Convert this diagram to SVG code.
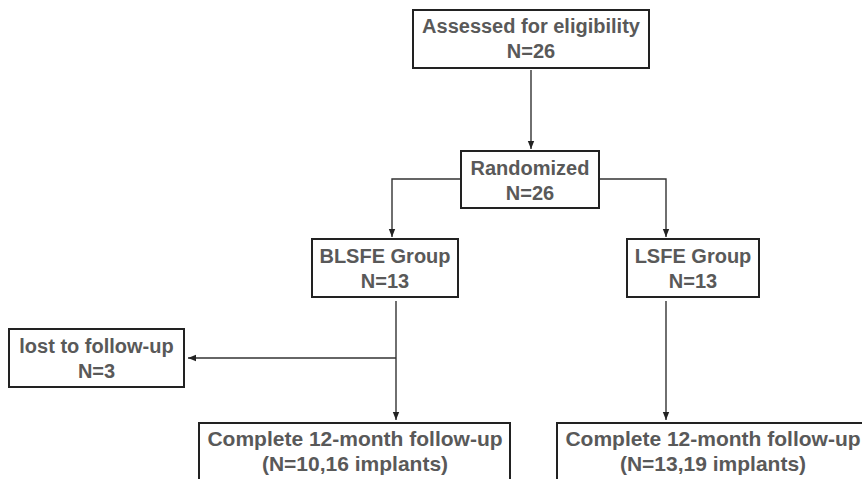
<svg xmlns="http://www.w3.org/2000/svg" width="862" height="479" viewBox="0 0 862 479">
<style>
.box{fill:#fff;stroke:#222;stroke-width:2}
.t{font-family:"Liberation Sans",Arial,sans-serif;font-weight:bold;font-size:20px;fill:#595959;text-anchor:middle}
.tb{font-size:21px}
.c{fill:none;stroke:#333;stroke-width:1.4}
</style>
<defs>
<marker id="ah" viewBox="0 0 8 8" refX="8" refY="4" markerWidth="8" markerHeight="8" markerUnits="userSpaceOnUse" orient="auto">
<path d="M0,0.8 L8,4 L0,7.2 Z" fill="#222"/>
</marker>
</defs>
<rect width="862" height="479" fill="#fff"/>
<g id="connectors">
<path class="c" d="M531,70 V149" marker-end="url(#ah)"/>
<path class="c" d="M461,179 H392 V237" marker-end="url(#ah)"/>
<path class="c" d="M599,179 H666 V237" marker-end="url(#ah)"/>
<path class="c" d="M396,301 V420" marker-end="url(#ah)"/>
<path class="c" d="M396,358 H188" marker-end="url(#ah)"/>
<path class="c" d="M666,301 V420" marker-end="url(#ah)"/>
</g>
<g id="assessed">
<rect class="box" x="413" y="10" width="236" height="58"/>
<text class="t" x="531" y="33">Assessed for eligibility</text>
<text class="t" x="531" y="58">N=26</text>
</g>
<g id="randomized">
<rect class="box" x="461" y="151" width="138" height="57"/>
<text class="t" x="530" y="175">Randomized</text>
<text class="t" x="530" y="200">N=26</text>
</g>
<g id="blsfe">
<rect class="box" x="312" y="239" width="146" height="58"/>
<text class="t" x="385" y="263">BLSFE Group</text>
<text class="t" x="385" y="288">N=13</text>
</g>
<g id="lsfe">
<rect class="box" x="627" y="239" width="132" height="58"/>
<text class="t" x="693" y="263">LSFE Group</text>
<text class="t" x="693" y="288">N=13</text>
</g>
<g id="lost">
<rect class="box" x="9" y="329" width="175" height="58"/>
<text class="t" x="96.5" y="353">lost to follow-up</text>
<text class="t" x="96.5" y="378">N=3</text>
</g>
<g id="complete-blsfe">
<rect class="box" x="199" y="423" width="311" height="70"/>
<text class="t tb" x="355" y="446">Complete 12-month follow-up</text>
<text class="t tb" x="355" y="471">(N=10,16 implants)</text>
</g>
<g id="complete-lsfe">
<rect class="box" x="557" y="423" width="312" height="70"/>
<text class="t tb" x="713" y="446">Complete 12-month follow-up</text>
<text class="t tb" x="713" y="471">(N=13,19 implants)</text>
</g>
</svg>
